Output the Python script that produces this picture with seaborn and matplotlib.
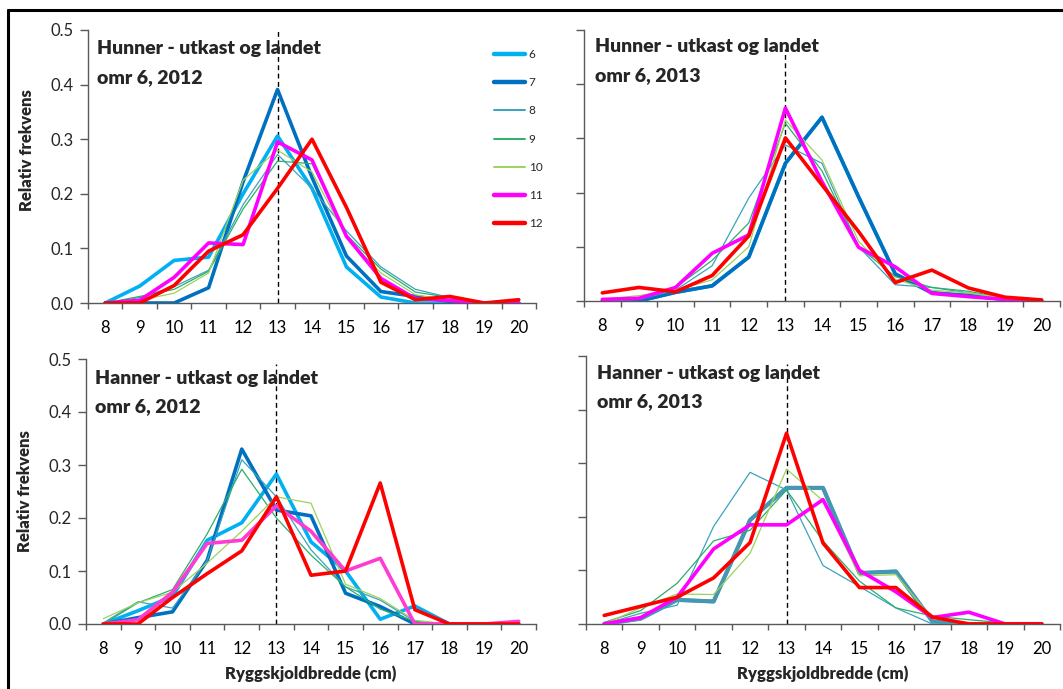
import matplotlib
matplotlib.use("Agg")
import matplotlib.pyplot as plt
from matplotlib.lines import Line2D
from matplotlib.ticker import FixedLocator
import seaborn as sns

# Carapace width classes (cm) and age groups
widths = [8, 9, 10, 11, 12, 13, 14, 15, 16, 17, 18, 19, 20]
ages = ["6", "7", "8", "9", "10", "11", "12"]

# Hunner (females), area 6, 2012 -- relative frequency per width class
hun12_6 = [0.0, 0.031, 0.078, 0.084, 0.200, 0.306, 0.210, 0.066, 0.011, 0.0, 0.0, 0.0, 0.0]
hun12_7 = [0.0, 0.0, 0.0, 0.028, 0.222, 0.391, 0.230, 0.086, 0.021, 0.012, 0.003, 0.0, 0.0]
hun12_8 = [0.0, 0.010, 0.030, 0.060, 0.180, 0.272, 0.210, 0.132, 0.066, 0.025, 0.010, 0.0, 0.0]
hun12_9 = [0.0, 0.012, 0.025, 0.058, 0.172, 0.260, 0.255, 0.125, 0.062, 0.020, 0.010, 0.0, 0.0]
hun12_10 = [0.0, 0.005, 0.018, 0.055, 0.225, 0.280, 0.240, 0.120, 0.055, 0.015, 0.005, 0.0, 0.0]
hun12_11 = [0.0, 0.005, 0.047, 0.110, 0.107, 0.295, 0.262, 0.122, 0.045, 0.008, 0.005, 0.0, 0.0]
hun12_12 = [0.0, 0.0, 0.032, 0.095, 0.125, 0.210, 0.300, 0.175, 0.038, 0.006, 0.012, 0.0, 0.006]

# Hunner (females), area 6, 2013
hun13_6 = [0.0, 0.0, 0.016, 0.028, 0.081, 0.254, 0.339, 0.192, 0.050, 0.015, 0.010, 0.003, 0.0]
hun13_7 = [0.0, 0.0, 0.016, 0.028, 0.081, 0.254, 0.339, 0.192, 0.050, 0.015, 0.010, 0.003, 0.0]
hun13_8 = [0.0, 0.003, 0.020, 0.065, 0.190, 0.288, 0.254, 0.100, 0.030, 0.025, 0.015, 0.003, 0.0]
hun13_9 = [0.003, 0.005, 0.025, 0.075, 0.144, 0.328, 0.240, 0.100, 0.045, 0.025, 0.018, 0.005, 0.002]
hun13_10 = [0.003, 0.010, 0.020, 0.039, 0.100, 0.334, 0.260, 0.110, 0.040, 0.020, 0.015, 0.005, 0.003]
hun13_11 = [0.003, 0.005, 0.025, 0.088, 0.122, 0.356, 0.220, 0.099, 0.063, 0.014, 0.008, 0.003, 0.0]
hun13_12 = [0.015, 0.025, 0.017, 0.047, 0.120, 0.301, 0.214, 0.128, 0.034, 0.057, 0.024, 0.007, 0.002]

# Hanner (males), area 6, 2012
han12_6 = [0.0, 0.025, 0.052, 0.158, 0.191, 0.283, 0.155, 0.100, 0.009, 0.034, 0.0, 0.0, 0.0]
han12_7 = [0.0, 0.012, 0.023, 0.120, 0.330, 0.215, 0.204, 0.058, 0.033, 0.0, 0.0, 0.0, 0.0]
han12_8 = [0.002, 0.042, 0.030, 0.120, 0.310, 0.240, 0.140, 0.070, 0.045, 0.005, 0.0, 0.0, 0.0]
han12_9 = [0.0, 0.040, 0.065, 0.170, 0.292, 0.200, 0.130, 0.070, 0.028, 0.005, 0.0, 0.0, 0.0]
han12_10 = [0.010, 0.040, 0.060, 0.115, 0.175, 0.240, 0.228, 0.075, 0.048, 0.007, 0.0, 0.0, 0.0]
han12_11 = [0.0, 0.008, 0.060, 0.152, 0.158, 0.223, 0.175, 0.100, 0.124, 0.0, 0.0, 0.0, 0.005]
han12_12 = [0.0, 0.0, 0.050, 0.095, 0.138, 0.240, 0.092, 0.100, 0.266, 0.027, 0.0, 0.0, 0.0]

# Hanner (males), area 6, 2013
han13_6 = [0.0, 0.010, 0.045, 0.042, 0.194, 0.254, 0.254, 0.095, 0.098, 0.005, 0.0, 0.0, 0.0]
han13_7 = [0.0, 0.010, 0.045, 0.042, 0.194, 0.254, 0.254, 0.095, 0.098, 0.005, 0.0, 0.0, 0.0]
han13_8 = [0.0, 0.020, 0.035, 0.182, 0.283, 0.250, 0.109, 0.070, 0.030, 0.0, 0.0, 0.0, 0.0]
han13_9 = [0.003, 0.025, 0.076, 0.155, 0.175, 0.250, 0.155, 0.080, 0.030, 0.015, 0.008, 0.002, 0.0]
han13_10 = [0.0, 0.030, 0.056, 0.055, 0.132, 0.289, 0.230, 0.090, 0.092, 0.010, 0.0, 0.002, 0.0]
han13_11 = [0.0, 0.012, 0.050, 0.140, 0.185, 0.185, 0.232, 0.100, 0.060, 0.012, 0.022, 0.0, 0.0]
han13_12 = [0.016, 0.033, 0.050, 0.086, 0.152, 0.356, 0.151, 0.068, 0.068, 0.013, 0.0, 0.0, 0.0]

titles = [
    ("Hunner - utkast og landet", "omr 6, 2012"),
    ("Hunner - utkast og landet", "omr 6, 2013"),
    ("Hanner - utkast og landet", "omr 6, 2012"),
    ("Hanner - utkast og landet", "omr 6, 2013"),
]
panel_series = [
    [hun12_6, hun12_7, hun12_8, hun12_9, hun12_10, hun12_11, hun12_12],
    [hun13_6, hun13_7, hun13_8, hun13_9, hun13_10, hun13_11, hun13_12],
    [han12_6, han12_7, han12_8, han12_9, han12_10, han12_11, han12_12],
    [han13_6, han13_7, han13_8, han13_9, han13_10, han13_11, han13_12],
]

colors = ["#00B0F0", "#0070C0", "#3AA3BD", "#2DAE6A", "#9BD35A", "#FF00FF", "#FF0000"]
widths_lw = [2.6, 2.6, 0.9, 0.9, 0.9, 2.6, 2.6]

sns.set_theme(style="white")
plt.rcParams["font.family"] = ["Lato", "DejaVu Sans"]

W, H = 1063, 689
fig = plt.figure(figsize=(W / 100, H / 100), dpi=100)


def fx(px):
    return px / W


def fy(py):
    return 1 - py / H


# axes boxes in pixels: left, top, right, bottom
boxes = [(88, 30, 536, 303), (584, 30, 1060, 301), (86, 359, 536, 624), (586, 356, 1060, 624)]
axes = []
for (l, t, r, b) in boxes:
    axes.append(fig.add_axes([fx(l), fy(b), fx(r - l), (b - t) / H]))

spine_col = "#595959"
vline_tops = [0.5, 0.465, 0.49, 0.485]
title_pos = [(97, 54, 83), (595, 52, 81), (95, 384, 412), (597, 379, 407)]

for i, ax in enumerate(axes):
    series = panel_series[i]
    for k, vals in enumerate(series):
        col = colors[k]
        lw = widths_lw[k]
        if i == 3 and k == 1:
            col = "#4797B1"
            lw = 3.0
        if i == 2 and k == 5:
            col = "#FF3CD2"
        sns.lineplot(x=widths, y=vals, ax=ax, color=col, linewidth=lw,
                     zorder=3 + k, legend=False)

    ax.vlines(13, 0, vline_tops[i], colors="black", linestyles=(0, (3.5, 2.5)),
              linewidth=1.0, zorder=2)

    ax.set_xlim(7.5, 20.5)
    ax.set_ylim(0, 0.5)
    ax.set_xticks(widths)
    ax.set_xticklabels([str(w) for w in widths], fontsize=12)
    ax.xaxis.set_minor_locator(FixedLocator([w - 0.5 for w in widths] + [20.5]))
    ax.tick_params(axis="x", which="major", length=0, pad=12, colors="black")
    ax.tick_params(axis="x", which="minor", length=4, width=1, color=spine_col,
                   direction="out", bottom=True)
    ax.set_yticks([0.0, 0.1, 0.2, 0.3, 0.4, 0.5])
    ax.tick_params(axis="y", which="major", length=5.5, width=1, color=spine_col,
                   direction="out", left=True, pad=5)
    if i in (0, 2):
        ax.set_yticklabels(["0.0", "0.1", "0.2", "0.3", "0.4", "0.5"], fontsize=12)
        ax.set_ylabel("Relativ frekvens", fontsize=12, fontweight="heavy")
    else:
        ax.set_yticklabels([])
        ax.set_ylabel("")
    if i in (2, 3):
        ax.set_xlabel("Ryggskjoldbredde (cm)", fontsize=12, fontweight="heavy")
        ax.xaxis.set_label_coords(0.5, -0.155)
    else:
        ax.set_xlabel("")

    for side in ("top", "right"):
        ax.spines[side].set_visible(False)
    for side in ("left", "bottom"):
        ax.spines[side].set_color(spine_col)
        ax.spines[side].set_linewidth(1.0)

    tx, ty1, ty2 = title_pos[i]
    fig.text(fx(tx), fy(ty1), titles[i][0], fontsize=14, fontweight="heavy",
             va="baseline", ha="left")
    fig.text(fx(tx), fy(ty2), titles[i][1], fontsize=14, fontweight="heavy",
             va="baseline", ha="left")

axes[0].yaxis.set_label_coords(-0.118, 0.56)
axes[2].yaxis.set_label_coords(-0.118, 0.5)

# age-group legend
handles = [Line2D([0], [0], color=colors[k], linewidth=widths_lw[k] + 0.6 if widths_lw[k] > 2 else 1.4)
           for k in range(len(ages))]
fig.legend(handles, ages, loc="upper left", bbox_to_anchor=(fx(494), fy(49)),
           frameon=False, fontsize=8.5, handlelength=2.6, handletextpad=0.35,
           labelspacing=1.46, borderpad=0, borderaxespad=0)

# outer frame lines (top and left)
fig.add_artist(Line2D([fx(8), 1.0], [fy(10), fy(10)], color="black", linewidth=2.2))
fig.add_artist(Line2D([fx(8), fx(8)], [fy(10), 0.0], color="black", linewidth=2.2))

fig.savefig("out.png", dpi=100)
